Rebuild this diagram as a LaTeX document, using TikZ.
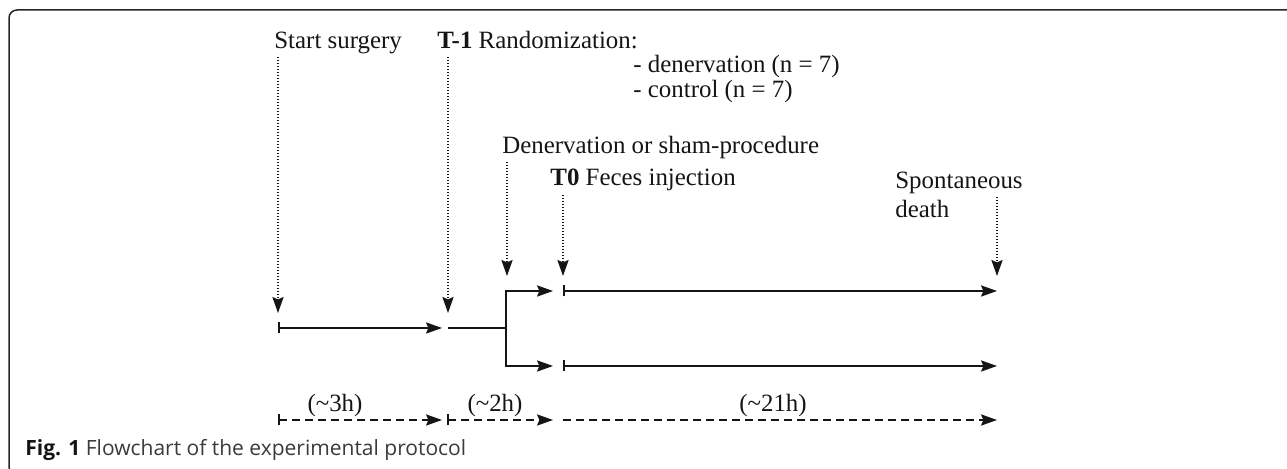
\documentclass[tikz,border=0pt]{standalone}
\usepackage{fontspec}
\setmainfont{Liberation Serif}
\newfontfamily\capfont{Open Sans}
\usetikzlibrary{arrows.meta}
\definecolor{fcink}{HTML}{151515}
\definecolor{fcframe}{HTML}{262626}
\definecolor{fccap}{HTML}{3A3A3A}

\begin{document}
\begin{tikzpicture}[
  x=0.5pt, y=-0.5pt,
  tip/.style   = {-{Stealth[length=8pt,width=5.6pt,inset=1.2pt]}},
  flow/.style  = {tip, draw=fcink, line width=0.8pt},
  span/.style  = {{Bar[width=5.5pt]}-{Stealth[length=8pt,width=5.6pt,inset=1.2pt]},
                  draw=fcink, line width=0.8pt},
  dur/.style   = {span, dash pattern=on 4pt off 2.5pt},
  durend/.style= {flow, dash pattern=on 4pt off 2.5pt},
  cue/.style   = {flow, line width=0.75pt, dash pattern=on 0.75pt off 0.75pt},
  lab/.style   = {anchor=base west, inner sep=0pt, text=fcink,
                  font=\fontsize{12.45}{16}\selectfont},
  hrs/.style   = {lab, anchor=base},
]
\useasboundingbox (0,0) rectangle (1287,469);
\draw[fcframe, line width=0.75pt, rounded corners=4pt]
  (1300,10) -- (9,10) -- (9,475) -- (40,475);

\node[lab] (ss) at (274,49) {Start surgery};
\node[lab] (t1) at (437,49) {\textbf{T-1} Randomization:};
\node[lab] (g1) at (633,73) {- denervation (n = 7)};
\node[lab] (g2) at (633,98) {- control (n = 7)};
\node[lab] (dn) at (502,154) {Denervation or sham-procedure};
\node[lab] (t0) at (550,186) {\textbf{T0} Feces injection};
\node[lab, align=left] (sd) at (895,218) {Spontaneous\\[-1.5pt]death};

\coordinate (ssa) at (278,57);  \coordinate (ssb) at (278,313);
\coordinate (t1a) at (448,57);  \coordinate (t1b) at (448,313);
\coordinate (dna) at (507,162); \coordinate (dnb) at (507,276);
\coordinate (t0a) at (563,195); \coordinate (t0b) at (563,276);
\coordinate (sda) at (997,197); \coordinate (sdb) at (997,276);
\draw[cue] (ssa) -- (ssb);
\draw[cue] (t1a) -- (t1b);
\draw[cue] (dna) -- (dnb);
\draw[cue] (t0a) -- (t0b);
\draw[cue] (sda) -- (sdb);

\coordinate (p0) at (278,328); \coordinate (p1) at (442,328);
\coordinate (p2) at (448,328); \coordinate (br) at (506,328);
\coordinate (ue) at (553,291); \coordinate (le) at (553,366);
\coordinate (us) at (563,291); \coordinate (ut) at (997,291);
\coordinate (ls) at (563,366); \coordinate (lt) at (997,366);
\draw[span] (p0) -- (p1);
\draw[flow] (p2) -- (br) |- (ue);
\draw[flow] (br) |- (le);
\draw[span] (us) -- (ut);
\draw[span] (ls) -- (lt);

\coordinate (d0) at (278,420); \coordinate (d1) at (442,420);
\coordinate (d2) at (447,420); \coordinate (d3) at (553,420);
\coordinate (d4) at (563,420); \coordinate (d5) at (997,420);
\draw[dur] (d0) -- (d1);
\draw[dur] (d2) -- (d3);
\draw[durend] (d4) -- (d5);
\node[hrs] (h3) at (335,412) {(\textasciitilde3h)};
\node[hrs] (h2) at (495,412) {(\textasciitilde2h)};
\node[hrs] (h21) at (773,412) {(\textasciitilde21h)};

\node[anchor=base west, inner sep=0pt, text=fccap,
      font=\capfont\fontsize{10.5}{12}\selectfont] (cap) at (25,456)
  {\textcolor{fcink}{\textbf{Fig. 1}} Flowchart of the experimental protocol};
\end{tikzpicture}
\end{document}
